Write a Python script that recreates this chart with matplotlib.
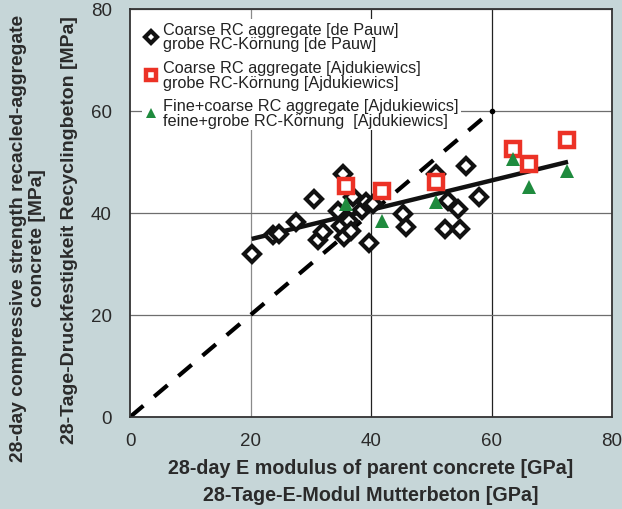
import matplotlib
matplotlib.use("Agg")
import matplotlib.pyplot as plt

plt.rcParams["font.family"] = ["Liberation Sans", "DejaVu Sans"]

BG = "#c6d6d8"
RED = "#ec3226"
GREEN = "#1f8b3e"
TXT = "#2a2a2a"

# de Pauw, coarse RC aggregate: E modulus [GPa], compressive strength [MPa]
pauw_e = [20.3, 23.8, 24.7, 27.5, 30.5, 31.2, 32.0, 34.5, 35.4, 35.0,
          36.3, 35.5, 36.7, 37.0, 38.5, 39.2, 40.3, 39.7, 45.3, 45.8,
          50.8, 52.8, 54.5, 52.2, 54.7, 55.8, 58.0]
pauw_fc = [32.0, 35.7, 35.9, 38.2, 42.7, 34.7, 36.3, 40.4, 47.6, 37.5,
           38.4, 35.3, 36.5, 43.1, 40.6, 42.2, 41.8, 34.1, 39.8, 37.3,
           47.6, 42.4, 40.8, 36.9, 36.9, 49.2, 43.1]

# Ajdukiewics
ajd_e = [35.8, 41.8, 50.8, 63.5, 66.2, 72.5]
ajd_coarse_fc = [45.3, 44.4, 46.1, 52.5, 49.6, 54.4]
ajd_fine_fc = [41.8, 38.5, 42.2, 50.6, 45.1, 48.2]

# trend line of all data and the 1:1 line
fit_x = [20.2, 72.7]
fit_slope, fit_icpt = 0.288, 29.1
ref_x = [0, 60]

labels = [
    "Coarse RC aggregate [de Pauw]\ngrobe RC-Körnung [de Pauw]",
    "Coarse RC aggregate [Ajdukiewics]\ngrobe RC-Körnung [Ajdukiewics]",
    "Fine+coarse RC aggregate [Ajdukiewics]\nfeine+grobe RC-Körnung  [Ajdukiewics]",
]

fig = plt.figure(figsize=(6.22, 5.10), dpi=100)
fig.patch.set_facecolor(BG)

ax = fig.add_axes([130 / 622, 92 / 510, 482 / 622, 408 / 510])
ax.set_facecolor("white")
ax.set_xlim(0, 80)
ax.set_ylim(0, 80)
ax.set_xticks([0, 20, 40, 60, 80])
ax.set_yticks([0, 20, 40, 60, 80])
ax.tick_params(length=0, labelsize=13.5, labelcolor=TXT)
ax.tick_params(axis="x", pad=11)
ax.tick_params(axis="y", pad=13)
for sp in ax.spines.values():
    sp.set_color("#333333")
    sp.set_linewidth(1.3)

ax.grid(True, linewidth=0.9, zorder=0)
for gl, c in zip(ax.xaxis.get_gridlines(), ["none", "#8a8a8a", "#222222", "#222222", "none"]):
    gl.set_color(c)
for gl in ax.yaxis.get_gridlines():
    gl.set_color("#6e6e6e")
ax.set_axisbelow(True)

ax.plot(ref_x, ref_x, color="black", lw=3, linestyle=(0, (4.2, 3.4)),
        marker="o", markersize=3, markevery=[1], zorder=2)
fx = fit_x
ax.plot(fx, [fit_slope * v + fit_icpt for v in fx], color="#111111", lw=3.2,
        solid_capstyle="butt", zorder=3)

h1, = ax.plot(pauw_e, pauw_fc, linestyle="none", marker="D", markersize=8.3,
              markerfacecolor="white", markeredgecolor="#111111",
              markeredgewidth=3, zorder=4)
h2, = ax.plot(ajd_e, ajd_coarse_fc, linestyle="none", marker="s", markersize=10.5,
              markerfacecolor="white", markeredgecolor=RED,
              markeredgewidth=3.2, zorder=5)
h3, = ax.plot(ajd_e, ajd_fine_fc, linestyle="none", marker="^", markersize=10.5,
              color=GREEN, markeredgewidth=0, zorder=5)

leg = ax.legend([h1, h2, h3], labels, loc="upper left",
                bbox_to_anchor=(0.025, 0.975), borderaxespad=0, fontsize=11.7,
                frameon=True, facecolor="white", edgecolor="none",
                framealpha=1, fancybox=False, handlelength=0.8,
                handletextpad=0.35, labelspacing=0.52, markerscale=0.72,
                borderpad=0.15)
leg.set_zorder(6)
for t in leg.get_texts():
    t.set_linespacing(0.98)
    t.set_color("#222222")

ax.set_xlabel("28-day E modulus of parent concrete [GPa]\n28-Tage-E-Modul Mutterbeton [GPa]",
              fontsize=14.2, fontweight="bold", color=TXT, linespacing=1.55,
              labelpad=6)

fig.text(28 / 622, 1 - 238 / 510,
         "28-day compressive strength recacled-aggregate\nconcrete [MPa]",
         rotation=90, ha="center", va="center", multialignment="center",
         fontsize=13.9, fontweight="bold", color=TXT, linespacing=1.12)
fig.text(70 / 622, 1 - 230 / 510,
         "28-Tage-Druckfestigkeit Recyclingbeton [MPa]",
         rotation=90, ha="center", va="center",
         fontsize=14, fontweight="bold", color=TXT)

fig.savefig("out.png", dpi=100, facecolor=BG)
